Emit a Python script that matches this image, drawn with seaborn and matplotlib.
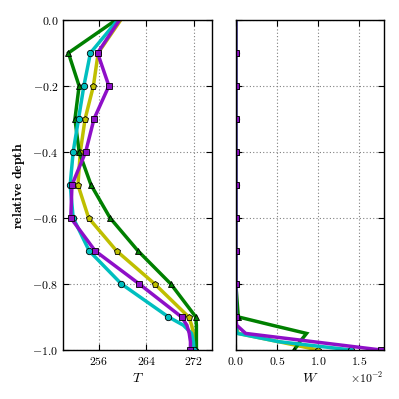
import numpy as np
import pandas as pd
import matplotlib
matplotlib.use("Agg")
import matplotlib.pyplot as plt
from matplotlib.ticker import MultipleLocator
import seaborn as sns

# relative depth levels (markers only on the tenths)
depth = [0.0, -0.1, -0.2, -0.3, -0.4, -0.5, -0.6, -0.7, -0.8, -0.9,
         -0.925, -0.95, -0.975, -1.0]
mark_idx = [1, 2, 3, 4, 5, 6, 7, 8, 9, 13]

series = ["yellow", "green", "cyan", "purple"]

# temperature profiles
T_yellow = [259.7, 255.9, 255.1, 253.7, 252.9, 252.5, 254.3, 259.0, 265.4, 271.1,
            271.6, 271.9, 272.0, 272.1]
T_green = [258.9, 250.9, 252.7, 252.0, 252.7, 254.7, 257.9, 262.6, 268.1, 272.3,
           272.4, 272.4, 272.4, 272.4]
T_cyan = [259.2, 254.6, 253.5, 252.6, 251.7, 251.2, 251.7, 254.4, 259.8, 267.7,
          270.2, 271.6, 271.9, 272.0]
T_purple = [259.5, 255.8, 257.7, 255.2, 253.8, 251.5, 251.3, 255.4, 262.8, 269.9,
            270.8, 271.2, 271.4, 271.4]

# W profiles
W_yellow = [0, 0, 0, 0, 0, 0, 0, 0, 0, 0, 0.0, 0.0003, 0.0052, 0.0100]
W_green = [0, 0, 0, 0, 0, 0, 0, 0, 0, 0.0003, 0.0044, 0.0086, 0.0078, 0.0071]
W_cyan = [0, 0, 0, 0, 0, 0, 0, 0, 0, 0, 0.0, 0.0002, 0.0052, 0.0140]
W_purple = [0, 0, 0, 0, 0, 0, 0, 0, 0, 0, 0.0001, 0.0012, 0.0094, 0.0176]

colors = {"yellow": "#bfbf00", "green": "#008000", "cyan": "#00bfbf", "purple": "#8e0fc8"}
markers = {"yellow": "p", "green": "^", "cyan": "o", "purple": "s"}
T_data = {"yellow": T_yellow, "green": T_green, "cyan": T_cyan, "purple": T_purple}
W_data = {"yellow": W_yellow, "green": W_green, "cyan": W_cyan, "purple": W_purple}

plt.rcParams.update({
    "font.family": "serif",
    "font.serif": ["cmr10", "DejaVu Serif"],
    "mathtext.fontset": "cm",
    "axes.formatter.use_mathtext": True,
    "font.size": 8.5,
    "xtick.direction": "in",
    "ytick.direction": "in",
    "xtick.top": True,
    "ytick.right": True,
    "xtick.major.size": 4,
    "ytick.major.size": 4,
    "axes.linewidth": 1.0,
    "axes.edgecolor": "black",
})

fig = plt.figure(figsize=(3.99, 3.99), dpi=100, facecolor="white")
ax1 = fig.add_axes([0.158, 0.123, 0.373, 0.827])
ax2 = fig.add_axes([0.591, 0.123, 0.371, 0.827], sharey=ax1)

for ax, data in [(ax1, T_data), (ax2, W_data)]:
    for i, s in enumerate(series):
        df = pd.DataFrame({"x": data[s], "depth": depth})
        sns.lineplot(data=df, x="x", y="depth", sort=False, estimator=None,
                     orient="y", color=colors[s], lw=2.5, marker=markers[s],
                     markevery=mark_idx, markersize=4.6, markeredgecolor="k",
                     markeredgewidth=0.6, solid_joinstyle="miter",
                     zorder=2 + i, ax=ax)

ax1.set_xlim(250, 275)
ax1.set_ylim(-1.0, 0.0)
ax1.xaxis.set_major_locator(MultipleLocator(8))
ax1.yaxis.set_major_locator(MultipleLocator(0.2))
ax1.set_xlabel(r"$T$", fontsize=10)
ax1.set_ylabel(r"$\mathbf{relative\ depth}$", fontsize=10)

ax2.set_xlim(0, 0.018)
ax2.xaxis.set_major_locator(MultipleLocator(0.005))
ax2.ticklabel_format(axis="x", style="sci", scilimits=(0, 0))
ax2.set_xlabel(r"$W$", fontsize=10)
ax2.set_ylabel("")
ax2.tick_params(labelleft=False)

for ax in (ax1, ax2):
    ax.grid(True, color="0.5", linestyle=(0, (1, 2)), linewidth=0.8)
    ax.set_facecolor("white")
    for sp in ax.spines.values():
        sp.set_zorder(10)

fig.savefig("out.png", dpi=100, facecolor="white")
